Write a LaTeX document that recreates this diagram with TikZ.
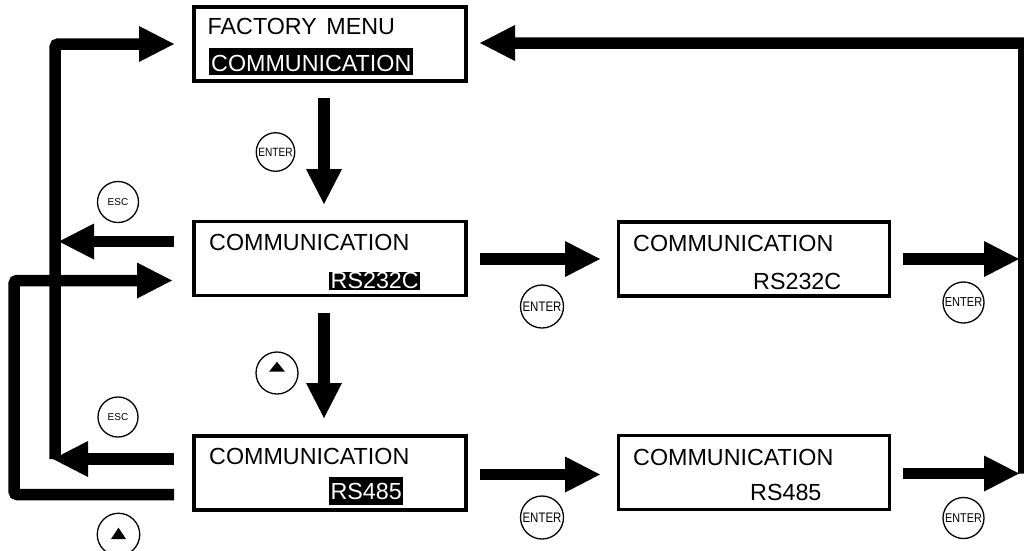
\documentclass[tikz,border=0pt]{standalone}
\usepackage{fontspec}
\setmainfont{Liberation Sans}
\usetikzlibrary{arrows.meta,calc}
\newcommand\enterlabel[2]{\scalebox{#1}[1]{\fontsize{#2}{#2}\selectfont ENTER}}
\begin{document}
\begin{tikzpicture}[x=1pt,y=-1pt,
  box/.style={draw,line width=3.3pt,inner sep=0pt,minimum width=272pt,minimum height=74pt},
  arr/.style={line width=11.5pt,-{Triangle[length=35pt,width=36pt,line width=0pt]}},
  btn/.style={circle,draw,line width=1.3pt,inner sep=0pt},
  lbl/.style={anchor=base west,inner sep=0pt,font=\fontsize{23.3}{28}\selectfont},
  hl/.style={lbl,fill=black,text=white,inner xsep=2pt},
  tri/.style={fill=black}
]
\useasboundingbox (0,0) rectangle (1024,550);

% boxes
\node[box] (A) at (330,44) {};
\node[box] (B) at (330,258.5) {};
\node[box] (C) at (330,473) {};
\node[box,minimum width=271pt] (D) at (754.2,259) {};
\node[box,minimum width=271pt] (E) at (754.2,472.5) {};

% texts
\node[lbl] (tA1) at (207.5,34) {FACTORY\hspace{3pt} MENU};
\node[hl,text height=23pt,text depth=4pt] (tA2) at (209,71) {COMMUNICATION};
\node[lbl] (tB1) at (209,250.7) {COMMUNICATION};
\node[hl,text height=16.6pt,text depth=1.7pt,inner xsep=1.5pt] (tB2) at (329,288.3) {RS232C};
\node[lbl] (tC1) at (209,464.3) {COMMUNICATION};
\node[hl,text height=22.3pt,text depth=5.7pt,inner xsep=1.4pt] (tC2) at (329,499.3) {RS485};
\node[lbl] (tD1) at (633,251) {COMMUNICATION};
\node[lbl] (tD2) at (753,289) {RS232C};
\node[lbl] (tE1) at (633,465) {COMMUNICATION};
\node[lbl] (tE2) at (750,500) {RS485};

% buttons
\node[btn,minimum size=38.5pt] (en1) at (275.5,152) {\enterlabel{0.84}{12}};
\node[btn,minimum size=41pt,font=\fontsize{10}{10}\selectfont] (esc1) at (118,202) {ESC};
\node[btn,minimum size=42pt] (up1) at (277,373) {};
\node[btn,minimum size=40pt,font=\fontsize{10}{10}\selectfont] (esc2) at (118,417) {ESC};
\node[btn,minimum size=42.5pt] (up2) at (118.5,534.5) {};
\node[btn,minimum size=43pt] (en2) at (542,306.5) {\enterlabel{0.83}{13.8}};
\node[btn,minimum size=41pt] (en3) at (963.5,302.5) {\enterlabel{0.85}{13}};
\node[btn,minimum size=43pt] (en4) at (542,517.5) {\enterlabel{0.83}{13.8}};
\node[btn,minimum size=41pt] (en5) at (963.5,518) {\enterlabel{0.85}{12.7}};

% triangles inside the up buttons
\fill[tri] ($(up1.center)+(-8,-1.3)$) -- ($(up1.center)+(8,-1.3)$) -- ($(up1.center)+(0,-11.3)$) -- cycle;
\fill[tri] ($(up2.center)+(-7.5,4.5)$) -- ($(up2.center)+(7.5,4.5)$) -- ($(up2.center)+(0,-6.8)$) -- cycle;

% connector coordinates
\coordinate (ab0) at (324,98);   \coordinate (ab1) at (324,204);
\coordinate (bc0) at (324,313);  \coordinate (bc1) at (324,418);
\coordinate (bd0) at (480,259);  \coordinate (bd1) at (600,259);
\coordinate (ce0) at (480,474.5);\coordinate (ce1) at (600,474.5);
\coordinate (dr0) at (903,259);  \coordinate (dr1) at (1019,259);
\coordinate (er0) at (903,473.5);\coordinate (er1) at (1019,473.5);
\coordinate (rb) at (1023.75,473.5); \coordinate (rt) at (1023.75,43); \coordinate (ra) at (480,43);
\coordinate (eb0) at (174,241.5); \coordinate (eb1) at (59,241.5);
\coordinate (ec0) at (174,459);   \coordinate (ec1) at (53,459);
\coordinate (lb) at (55.2,459); \coordinate (lt) at (55.2,44); \coordinate (la) at (174,44);
\coordinate (lp0) at (174,494.5); \coordinate (lp1) at (14.2,494.5); \coordinate (lp2) at (14.2,280.5); \coordinate (lp3) at (172,280.5);

% connectors
\draw[arr] (ab0) -- (ab1);
\draw[arr] (bc0) -- (bc1);
\draw[arr] (bd0) -- (bd1);
\draw[arr] (ce0) -- (ce1);
\draw[arr] (dr0) -- (dr1);
\draw[arr] (er0) -- (er1);
\draw[arr,rounded corners=2pt] (rb) -- (rt) -- (ra);
\draw[arr] (eb0) -- (eb1);
\draw[arr] (ec0) -- (ec1);
\draw[arr,rounded corners=3pt] (lb) -- (lt) -- (la);
\draw[arr,rounded corners=3pt] (lp0) -- (lp1) -- (lp2) -- (lp3);
\end{tikzpicture}
\end{document}
